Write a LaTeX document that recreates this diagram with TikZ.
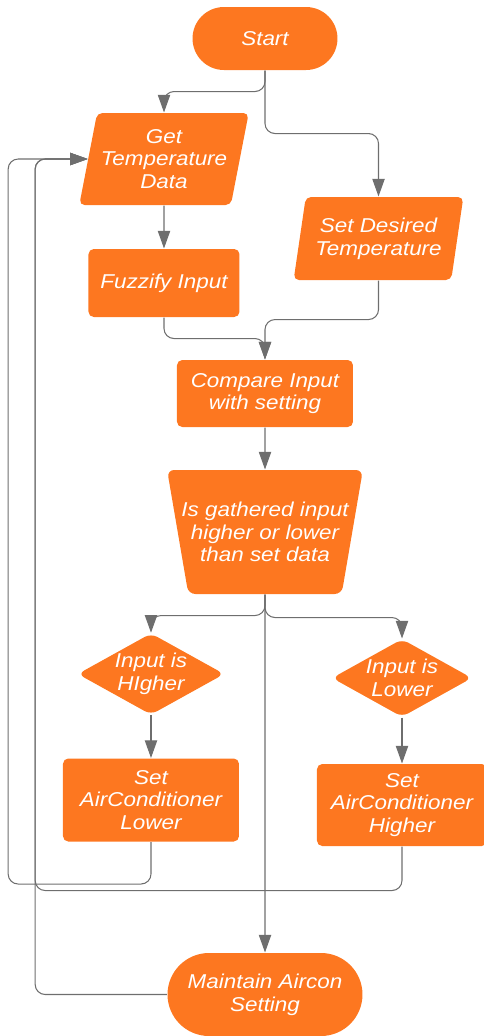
\documentclass[tikz,border=0pt]{standalone}
\usepackage{fontspec}
\newfontfamily\flowfont[FakeStretch=1.12]{Liberation Sans}
\usetikzlibrary{calc,shapes.geometric,shapes.misc,arrows.meta}
\definecolor{flow}{RGB}{253,119,32}
\definecolor{wire}{RGB}{110,110,110}

\begin{document}
\begin{tikzpicture}[
	box/.style={fill=flow, text=white, font=\flowfont\itshape\fontsize{11.4}{12.9}\selectfont, align=center, inner sep=2pt},
	term/.style={box, rounded rectangle, minimum height=1.26cm},
	proc/.style={box, rectangle, rounded corners=3pt},
	io/.style={box, trapezium, trapezium left angle=75, trapezium right angle=105, trapezium stretches=true, rounded corners=3pt},
	decide/.style={box, trapezium, trapezium left angle=106, trapezium right angle=106, trapezium stretches=true, inner xsep=-8pt, rounded corners=4pt},
	cond/.style={box, diamond, aspect=1.8, inner sep=0pt, rounded corners=4pt},
	link/.style={->, draw=wire},
	redge/.style={link, rounded corners=0.2cm}]
	\tikzset{every path/.style={line width=0.6pt}}
	\tikzset{>={Triangle[length=10pt,width=7pt]}}
	\useasboundingbox (-5.3,0.77) rectangle (4.38,-19.95);
	\node [term, minimum width=3.04cm] (start) at (0,0) {Start};
	\node [io, minimum width=3.42cm, minimum height=1.84cm] (gettemp) at ($(start) + (-2.02,-2.41)$) {Get\\Temperature\\Data};
	\node [io, minimum width=3.42cm, minimum height=1.66cm, trapezium left angle=77, trapezium right angle=103] (setdes) at ($(start) + (2.27,-4.0)$) {Set Desired\\Temperature};
	\node [proc, minimum width=3.02cm, minimum height=1.36cm] (fuzzify) at ($(gettemp) + (0,-2.48)$) {Fuzzify Input};
	\node [proc, minimum width=3.52cm, minimum height=1.34cm] (compare) at ($(start) + (0,-7.1)$) {Compare Input\\with setting};
	\node [decide, minimum width=3.92cm, minimum height=2.48cm] (check) at ($(compare) + (0,-2.77)$) {Is gathered input\\higher or lower\\than set data};
	\node [cond, minimum width=2.8cm, minimum height=1.56cm] (higher) at ($(check) + (-2.28,-2.84)$) {Input is\\HIgher};
	\node [cond, minimum width=2.8cm, minimum height=1.56cm] (lower) at ($(check) + (2.74,-2.92)$) {Input is\\Lower};
	\node [proc, minimum width=3.52cm, minimum height=1.66cm] (setlow) at ($(higher) + (0,-2.52)$) {Set\\AirConditioner\\Lower};
	\node [proc, minimum width=3.4cm, minimum height=1.64cm] (sethigh) at ($(lower) + (0,-2.54)$) {Set\\AirConditioner\\Higher};
	\node [term, minimum width=4.04cm, minimum height=1.66cm] (maintain) at ($(check) + (0,-9.25)$) {Maintain Aircon\\Setting};

	\draw [redge] (start.south) -- ++(0,-0.42) -| (gettemp.north);
	\draw [redge] (start.south) -- ++(0,-1.26) -| (setdes.north);
	\draw [link] (gettemp) -- (fuzzify);
	\draw [redge] (fuzzify.south) -- ++(0,-0.42) -| (compare.north);
	\draw [redge] (setdes.south) -- ++(0,-0.78) -| (compare.north);
	\draw [link] (compare) -- (check);
	\draw [redge] (check.south) -- ++(0,-0.42) -| (higher.north);
	\draw [redge] (check.south) -- ++(0,-0.46) -| (lower.north);
	\draw [link] (check) -- (maintain);
	\draw [link] (higher) -- (setlow);
	\draw [link] (lower) -- (sethigh);
	% back to the sensor
	\draw [redge] (setlow.south) -- ++(0,-0.84) -| ($(gettemp.west) + (-1.59,0)$) -- (gettemp.west);
	\draw [redge] (sethigh.south) -- ++(0,-0.88) -| ($(gettemp.west) + (-1.05,0)$) -- (gettemp.west);
	\draw [redge] (maintain.west) -| ($(gettemp.west) + (-1.05,0)$) -- (gettemp.west);
\end{tikzpicture}
\end{document}
